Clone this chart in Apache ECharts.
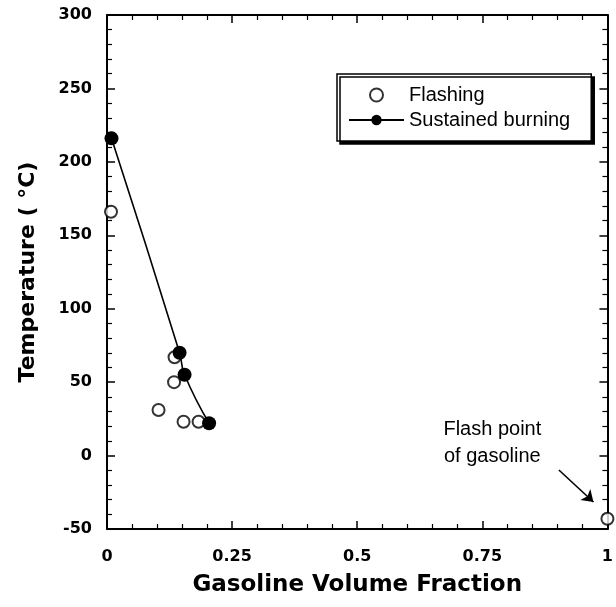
<!DOCTYPE html>
<html>
<head>
<meta charset="utf-8">
<script src="https://cdn.jsdelivr.net/npm/echarts@6/dist/echarts.min.js"></script>
<style>html,body{margin:0;padding:0;background:#fff;}#c{width:616px;height:607px;}</style>
</head>
<body>
<div id="c"></div>
<script>
// Flashing (open circles): [volume fraction, temperature °C]
const flashingX = [0.008, 0.135, 0.134, 0.103, 0.153, 0.183, 1.0];
const flashingY = [166, 67, 50, 31, 23, 23, -43];
// Sustained burning (filled circles, joined by curve)
const burningX = [0.009, 0.145, 0.155, 0.204];
const burningY = [216, 70, 55, 22];
// Axis ticks
const xTicks = [0, 0.25, 0.5, 0.75, 1];
const yTicks = [-50, 0, 50, 100, 150, 200, 250, 300];
// Annotation
const annotText = 'Flash point\nof gasoline';
const annotAt = [0.77, 8.6];
const arrowFrom = [0.903, -9.8];
const arrowTo = [0.972, -31.6];

const zip = (xs, ys) => xs.map((x, i) => [x, ys[i]]);
const chart = echarts.init(document.getElementById('c'), null, {renderer: 'canvas'});
const tickFont = {fontFamily: 'DejaVu Sans', fontWeight: 'bold', fontSize: 16, color: '#000'};
const axLine = {show: true, onZero: false, lineStyle: {color: '#000', width: 2}};
const majTick = {show: true, inside: true, length: 8, lineStyle: {color: '#000', width: 1.5}};
const minTick = {show: true, splitNumber: 5, length: 5, lineStyle: {color: '#000', width: 1.2}};
const xBase = {type: 'value', min: xTicks[0], max: xTicks[xTicks.length - 1], interval: 0.25,
  axisLine: axLine, axisTick: majTick, minorTick: minTick, splitLine: {show: false}};
const yBase = {type: 'value', min: yTicks[0], max: yTicks[yTicks.length - 1], interval: 50,
  axisLine: axLine, axisTick: majTick, minorTick: minTick, splitLine: {show: false}};

chart.setOption({
  animation: false,
  backgroundColor: '#fff',
  grid: {left: 107, right: 4, top: 15, bottom: 78, containLabel: false},
  xAxis: [
    Object.assign({}, xBase, {position: 'bottom',
      axisLabel: Object.assign({margin: 20}, tickFont),
      name: 'Gasoline Volume Fraction', nameLocation: 'middle', nameGap: 45,
      nameTextStyle: {fontFamily: 'DejaVu Sans', fontWeight: 'bold', fontSize: 23, color: '#000'}}),
    Object.assign({}, xBase, {position: 'top', axisLabel: {show: false}})
  ],
  yAxis: [
    Object.assign({}, yBase, {position: 'left',
      axisLabel: Object.assign({margin: 15}, tickFont),
      name: 'Temperature ( °C)', nameLocation: 'middle', nameGap: 68, nameRotate: 90,
      nameTextStyle: {fontFamily: 'DejaVu Sans', fontWeight: 'bold', fontSize: 22, color: '#000'}}),
    Object.assign({}, yBase, {position: 'right', axisLabel: {show: false}})
  ],
  legend: {
    orient: 'vertical', left: 337, top: 74,
    padding: [11, 21, 11, 11], itemGap: 5, itemWidth: 55, itemHeight: 13,
    backgroundColor: '#fff', borderColor: '#000', borderWidth: 1.5, borderRadius: 0,
    shadowColor: '#000', shadowBlur: 0, shadowOffsetX: 3, shadowOffsetY: 3,
    textStyle: {fontFamily: 'Liberation Sans', fontSize: 20, color: '#000'},
    data: ['Flashing', 'Sustained burning']
  },
  series: [
    {
      name: 'Flashing', type: 'scatter', data: zip(flashingX, flashingY),
      symbol: 'emptyCircle', symbolSize: 12, clip: false,
      itemStyle: {color: '#000', borderColor: '#000', borderWidth: 1.6},
      z: 2,
      markLine: {
        silent: true, symbol: ['none', 'arrow'], symbolSize: 11,
        lineStyle: {color: '#000', width: 1.6, type: 'solid'}, label: {show: false},
        data: [[{coord: arrowFrom}, {coord: arrowTo}]]
      },
      markPoint: {
        symbol: 'circle', symbolSize: 1, itemStyle: {color: 'rgba(0,0,0,0)'},
        label: {show: true, position: 'inside', formatter: annotText, fontFamily: 'Liberation Sans',
          fontSize: 20, lineHeight: 27, color: '#000', align: 'center'},
        data: [{coord: annotAt}]
      }
    },
    {
      name: 'Sustained burning', type: 'line', data: zip(burningX, burningY), smooth: true,
      symbol: 'circle', symbolSize: 14, showSymbol: true, clip: false,
      itemStyle: {color: '#000'}, lineStyle: {color: '#000', width: 1.6}, z: 3
    }
  ]
});
</script>
</body>
</html>
